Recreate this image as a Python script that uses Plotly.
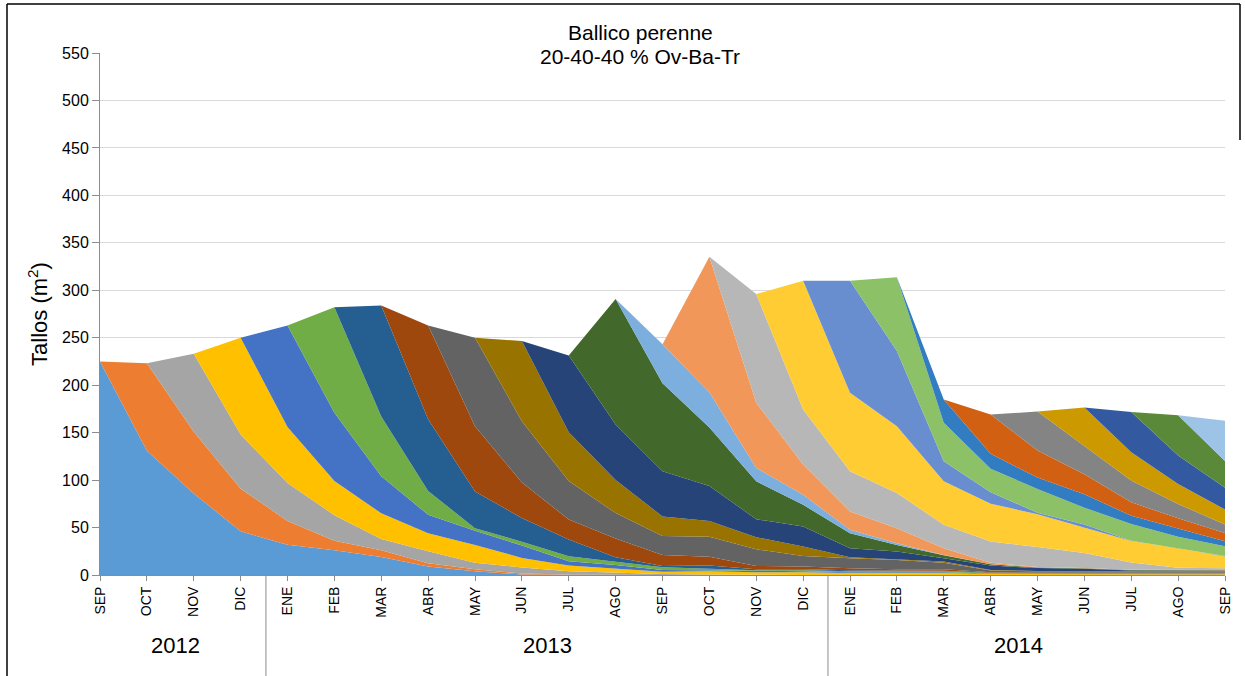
import plotly.graph_objects as go

# ---------------- data ----------------
months = ["SEP", "OCT", "NOV", "DIC", "ENE", "FEB", "MAR", "ABR", "MAY", "JUN", "JUL", "AGO",
          "SEP", "OCT", "NOV", "DIC", "ENE", "FEB", "MAR", "ABR", "MAY", "JUN", "JUL", "AGO", "SEP"]
years = ["2012", "2013", "2014"]

# each cohort: stems per m2, starting at its birth month
coh_sep12 = [225, 131, 86, 46, 32, 26, 19, 9, 4, 0.5, 0.2]
coh_oct12 = [92, 65, 45, 25, 10, 7, 3.5, 2, 1, 0.2]
coh_nov12 = [82, 57, 40, 27, 12, 12.5, 7, 6.5, 3.5, 2.5, 1, 0.5]
coh_dic12 = [102, 59, 36, 27, 19, 18.7, 10, 6, 4.5, 2.5, 3.5, 3, 3, 2, 2, 2, 1, 0.8, 0.8, 0.8, 0.8, 0.8]
coh_ene13 = [107, 72, 39, 19.5, 14.8, 13, 4.6, 3.6, 1.8, 1, 1, 1, 1, 1, 1, 0.5, 0.3, 0.3, 0.3, 0.3, 0.3]
coh_feb13 = [111, 63, 25, 2.8, 4, 5.3, 3, 2.8, 1.5, 1, 1, 1, 1, 1, 0.5, 0.5, 0.5, 0.5, 0.5, 0.5]
coh_mar13 = [117, 75.5, 38.8, 25, 17.6, 5, 1.4, 3.5, 1, 1, 1, 0.5, 0.5, 0.3, 0.3, 0.3, 0.3, 0.3, 0.3]
coh_abr13 = [99, 68.7, 37.5, 21.1, 19.9, 11.6, 9.2, 3.5, 3, 2, 1.5, 1.5, 0.5, 0.5, 0.5, 0.5, 0.5, 0.5]
coh_may13 = [93.2, 64.5, 40.6, 26.7, 20.1, 21.1, 17.6, 11, 10.6, 9.9, 7, 2, 1.5, 1.5, 1.5, 1.5, 1.5]
coh_jun13 = [84.5, 51.3, 34.8, 20.5, 16.6, 12.7, 10, 1.1, 0.8, 1.1, 0.5, 0.3, 0.3, 0.3, 0.3, 0.3]
coh_jul13 = [81, 58.6, 47.5, 36.9, 19, 21.1, 9.5, 8, 3.5, 4.6, 3.2, 2.4, 0.5, 0.3, 0.3]
coh_ago13 = [132.1, 92.8, 61.7, 39.9, 22.9, 15.8, 7, 3.3, 1.4, 0.5, 0.5, 0.5, 0.5, 0.5]
coh_sep13 = [41, 37, 14.1, 10.6, 3.6, 1.8, 0.2, 0.1]
coh_oct13 = [142.8, 68.7, 31.7, 19.3, 15.8, 7.1, 1.6, 0.5, 0.3, 0.2, 0.2, 0.2]
coh_nov13 = [114.5, 58.1, 42.3, 37.1, 24.7, 22.2, 21.2, 15.9, 7.7, 2.5, 2]
coh_dic13 = [135.6, 82.8, 70.4, 45.8, 39.8, 34.5, 26.4, 22.7, 20.4, 12.4]
coh_ene14 = [118, 79.2, 21.1, 12.3, 1.5, 3.6, 0.4, 0.3, 0.5]
coh_feb14 = [77.6, 40.5, 24.7, 25, 17.6, 17.5, 12, 10.1]
coh_mar14 = [24.7, 15.8, 12, 14.1, 8.8, 8.8, 5.3]
coh_abr14 = [41.2, 28.5, 21.1, 14.1, 10.6, 8.8]
coh_may14 = [41.2, 30, 22.9, 15.1, 8.9]
coh_jun14 = [40.5, 29.9, 21, 15.8]
coh_jul14 = [42.3, 30, 22.9]
coh_ago14 = [42.4, 28.2]
coh_sep14 = [42.3]

cohorts = [coh_sep12, coh_oct12, coh_nov12, coh_dic12, coh_ene13, coh_feb13, coh_mar13,
           coh_abr13, coh_may13, coh_jun13, coh_jul13, coh_ago13, coh_sep13, coh_oct13,
           coh_nov13, coh_dic13, coh_ene14, coh_feb14, coh_mar14, coh_abr14, coh_may14,
           coh_jun14, coh_jul14, coh_ago14, coh_sep14]

colors = ["#5B9BD5", "#ED7D31", "#A5A5A5", "#FFC000", "#4472C4", "#70AD47", "#255E91",
          "#9E480E", "#636363", "#997300", "#264478", "#43682B", "#7CAFDD", "#F1975A",
          "#B7B7B7", "#FFCD33", "#698ED0", "#8CC168", "#327DC2", "#D26012", "#848484",
          "#CC9A00", "#335AA1", "#5A8A39", "#9DC3E6"]

n = len(months)
x = list(range(n))

W, H = 1245, 676
L, R, T, B = 100, 20, 53, 101
PH = H - T - B  # plot height in px

fig = go.Figure()
for birth, vals in enumerate(cohorts):
    y = [0] * birth + list(vals)
    y = y + [0] * (n - len(y))
    fig.add_trace(go.Scatter(
        x=x, y=y, mode="lines", stackgroup="one",
        line=dict(width=0, color=colors[birth]),
        fillcolor=colors[birth],
        name=months[birth], showlegend=False,
    ))

FONT = "Arial, Liberation Sans, sans-serif"

def py(pix):
    """page pixel y -> paper y"""
    return (H - B - pix) / PH

def pxx(pix):
    """page pixel x -> paper x"""
    return (pix - L) / (W - L - R)

# year separators and labels
sep_pos = [3.54, 15.53]
for s in sep_pos:
    fig.add_shape(type="line", xref="x", yref="paper", x0=s, x1=s, y0=0, y1=py(H),
                  line=dict(color="#8C8C8C", width=1))
year_pos = [1.62, 9.55, 19.6]
for yp, yl in zip(year_pos, years):
    fig.add_annotation(x=yp, xref="x", y=py(645), yref="paper", text=yl, showarrow=False,
                       font=dict(family=FONT, size=22, color="#000000"), yanchor="middle")

# title (two lines)
fig.add_annotation(x=0.48, xref="paper", y=py(33), yref="paper", text="Ballico perenne",
                   showarrow=False, yanchor="middle",
                   font=dict(family=FONT, size=21, color="#000000"))
fig.add_annotation(x=0.48, xref="paper", y=py(57), yref="paper",
                   text="20-40-40 % Ov-Ba-Tr", showarrow=False, yanchor="middle",
                   font=dict(family=FONT, size=21, color="#000000"))

# outer frame (left, top, right-top part)
fig.add_shape(type="line", xref="paper", yref="paper", x0=pxx(7), x1=pxx(7), y0=py(4), y1=py(H),
              line=dict(color="#000000", width=1.5))
fig.add_shape(type="line", xref="paper", yref="paper", x0=pxx(7), x1=pxx(1240), y0=py(4), y1=py(4),
              line=dict(color="#000000", width=1.5))
fig.add_shape(type="line", xref="paper", yref="paper", x0=pxx(1240), x1=pxx(1240), y0=py(4), y1=py(140),
              line=dict(color="#000000", width=1.5))

fig.update_layout(
    width=W, height=H, autosize=False,
    margin=dict(l=L, r=R, t=T, b=B),
    plot_bgcolor="white", paper_bgcolor="white",
    font=dict(family=FONT, color="#000000"),
    xaxis=dict(
        range=[0, n - 1], tickmode="array", tickvals=x, ticktext=months,
        tickangle=-90, tickfont=dict(family=FONT, size=14, color="#000000"),
        showgrid=False, zeroline=False, showline=True, linecolor="#8C8C8C", linewidth=1,
        ticks="outside", ticklen=5, tickcolor="#8C8C8C",
    ),
    yaxis=dict(
        range=[0, 550], tickmode="array", tickvals=list(range(0, 551, 50)),
        tickfont=dict(family=FONT, size=16, color="#000000"),
        showgrid=True, gridcolor="#D9D9D9", gridwidth=1, zeroline=False,
        showline=True, linecolor="#8C8C8C", linewidth=1,
        ticks="outside", ticklen=7, tickcolor="#8C8C8C",
        title=dict(text="Tallos (m<sup>2</sup>)", font=dict(family=FONT, size=22, color="#000000"),
                   standoff=8),
    ),
)

fig.write_html("out.html", config={"displayModeBar": False},
               post_script="document.body.style.margin='0px';document.body.style.overflow='hidden';")
